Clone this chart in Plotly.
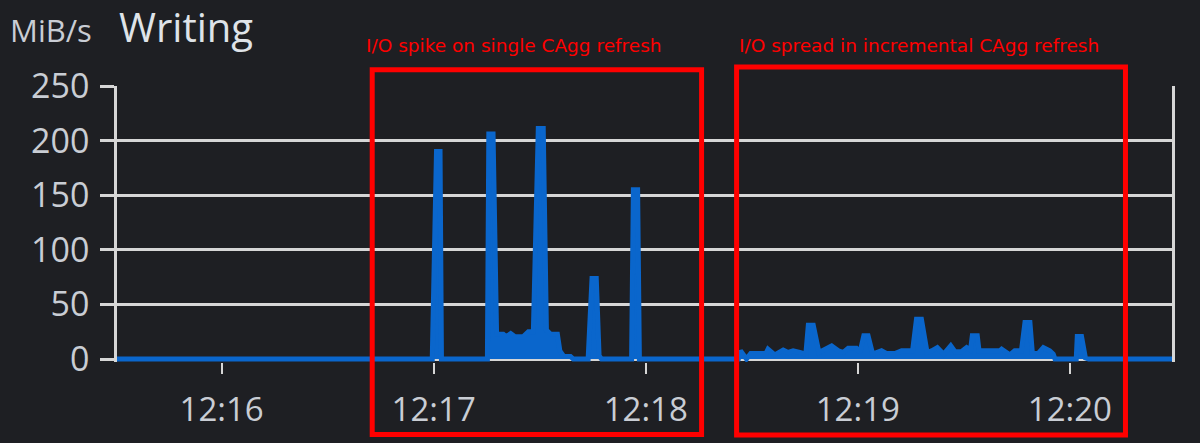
import pandas as pd
import plotly.graph_objects as go

# seconds relative to 12:16:00
t_offsets_s = [-29.6, 59.6, 60.8, 61.8, 62.2, 75.2, 75.6, 76.8, 77.8, 79.7, 80.6, 81.8, 83.0,
               85.3, 86.8, 88.2, 89.6, 91.0, 91.9, 93.1, 95.0, 95.7, 96.8, 98.7, 99.5, 103.7,
               104.8, 106.0, 106.8, 107.5, 116.0, 116.5, 117.7, 118.2, 146.2, 146.8, 148.5,
               149.7, 154.0, 154.6, 156.5, 158.9, 160.3, 161.7, 163.6, 165.3, 166.0, 167.4,
               169.0, 172.1, 172.6, 174.5, 175.9, 177.3, 179.6, 180.6, 181.7, 182.9, 184.2,
               186.7, 188.1, 190.5, 192.4, 195.5, 196.6, 198.0, 199.6, 200.9, 202.5, 204.3,
               206.3, 207.5, 209.3, 210.8, 211.9, 212.4, 213.8, 214.3, 216.4, 220.2, 220.7,
               223.0, 224.4, 226.3, 227.3, 228.7, 229.4, 231.0, 232.5, 234.3, 235.3, 235.8,
               241.8, 242.1, 243.3, 244.4, 245.3, 268.9]
mib_s = [0, 0, 190, 190, 0, 0, 206, 206, 22.7, 22.7, 20.3, 23.3, 20.3,
         20.3, 24.9, 24.9, 211, 211, 26.4, 22.7, 22.7, 7.5, 2.4, 2.4, 0, 0,
         73.7, 73.7, 3, 0, 0, 155, 155, 0, 0, 7.5, 0,
         5.0, 5.0, 9.0, 3.8, 8.1, 6.0, 7.5, 6.0, 4.4, 31.0, 31.0,
         6.0, 10.5, 12.0, 7.5, 6.0, 9.9, 9.9, 6.0, 21.2, 21.2, 4.4,
         7.5, 5.0, 5.0, 7.5, 7.5, 36.5, 36.5, 6.0, 7.5, 10.5, 4.4,
         12.0, 6.6, 6.6, 10.5, 8.1, 21.2, 21.2, 7.5, 7.5, 7.5, 9.0,
         3.8, 7.5, 7.5, 33.4, 33.4, 5.0, 5.0, 10.5, 7.5, 4.4, 0,
         0, 20.6, 20.6, 1, 0, 0]

y_tick_vals = [0, 50, 100, 150, 200, 250]
title_text = "Writing"
unit_text = "MiB/s"
note_left = "I/O spike on single CAgg refresh"
note_right = "I/O spread in incremental CAgg refresh"

base = pd.Timestamp("2023-01-01 12:16:00")
times = [base + pd.Timedelta(seconds=s) for s in t_offsets_s]

BG = "#1e1f23"
BLUE = "#0a66cc"
GRID = "#d6d6d6"
TXT = "#c9cdd4"
RED = "#ff0000"

fig = go.Figure()
fig.add_trace(go.Scatter(
    x=times, y=mib_s, mode="lines",
    line=dict(color=BLUE, width=5),
    fill="tozeroy", fillcolor=BLUE,
    hoverinfo="skip", showlegend=False,
))

fig.update_layout(
    width=1200, height=443,
    paper_bgcolor=BG, plot_bgcolor=BG,
    margin=dict(l=117, r=28, t=86, b=81),
    font=dict(family="Open Sans", color=TXT),
    xaxis=dict(
        range=[times[0], times[-1]],
        tickformat="%H:%M", dtick=60000,
        tick0=base,
        showgrid=False, showline=False, zeroline=False,
        ticks="outside", ticklen=11, tickwidth=2, tickcolor=GRID,
        tickfont=dict(size=33, color=TXT, family="Open Sans"),
        ticklabelstandoff=7,
        automargin=False,
        layer="below traces",
    ),
    yaxis=dict(
        range=[-2.75, 250],
        tickvals=y_tick_vals,
        showgrid=True, gridcolor=GRID, gridwidth=2.5,
        showline=True, linecolor=GRID, linewidth=2.5, mirror=True,
        zeroline=False,
        ticks="outside", ticklen=14, tickwidth=2.5, tickcolor=GRID,
        tickfont=dict(size=34, color=TXT, family="Open Sans"),
        ticklabelstandoff=4,
        automargin=False,
        layer="below traces",
    ),
    shapes=[
        dict(type="rect", xref="paper", yref="paper",
             x0=0.2419, x1=0.5541, y0=-0.2627, y1=1.0591,
             line=dict(color=RED, width=5), fillcolor="rgba(0,0,0,0)"),
        dict(type="rect", xref="paper", yref="paper",
             x0=0.5873, x1=0.9559, y0=-0.2645, y1=1.0688,
             line=dict(color=RED, width=5), fillcolor="rgba(0,0,0,0)"),
    ],
    annotations=[
        dict(text=unit_text, xref="paper", yref="paper", x=-0.1035, y=1.203,
             xanchor="left", yanchor="middle", showarrow=False,
             font=dict(size=31, color=TXT, family="Open Sans")),
        dict(text=title_text, xref="paper", yref="paper", x=0.0, y=1.215,
             xanchor="left", yanchor="middle", showarrow=False,
             font=dict(size=40, color="#dfe3e8", family="Open Sans")),
        dict(text=note_left, xref="paper", yref="paper", x=0.2345, y=1.145,
             xanchor="left", yanchor="middle", showarrow=False,
             font=dict(size=18.5, color=RED, family="DejaVu Sans")),
        dict(text=note_right, xref="paper", yref="paper", x=0.5875, y=1.145,
             xanchor="left", yanchor="middle", showarrow=False,
             font=dict(size=18.5, color=RED, family="DejaVu Sans")),
    ],
)

fig.write_html("out.html",
               config={"displayModeBar": False},
               post_script="document.body.style.margin='0';document.body.style.background='%s';" % BG)
